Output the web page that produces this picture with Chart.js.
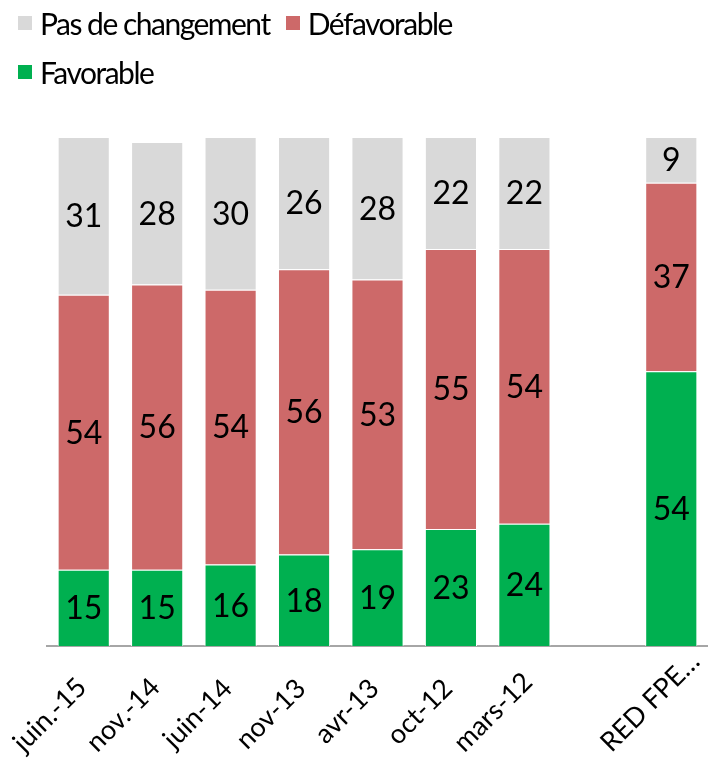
<!DOCTYPE html>
<html>
<head>
<meta charset="utf-8">
<script src="https://cdn.jsdelivr.net/npm/chart.js@4"></script>
<style>
    body { margin: 0; background: #fff; }
    #wrap { position: relative; width: 708px; height: 762px; }
    #legend { position: absolute; left: 18px; top: 0; width: 560px; display: flex; flex-wrap: wrap; font-family: Lato, sans-serif; font-size: 30px; letter-spacing: -1.5px; color: #000; }
    .item { display: flex; align-items: center; height: 53px; margin-right: 16px; margin-top: -4px; }
    .box { width: 14px; height: 14px; margin-right: 8px; }
    canvas { position: absolute; left: 0; top: 0; }
</style>
</head>
<body>
<div id="wrap">
    <canvas id="chart" width="708" height="762"></canvas>
    <div id="legend"></div>
</div>
<script>
// chart data
const categories = ['juin.-15', 'nov.-14', 'juin-14', 'nov-13', 'avr-13', 'oct-12', 'mars-12', '', 'RED FPE…'];
const favorable = [15, 15, 16, 18, 19, 23, 24, null, 54];
const defavorable = [54, 56, 54, 56, 53, 55, 54, null, 37];
const pasDeChangement = [31, 28, 30, 26, 28, 22, 22, null, 9];

const seriesLabels = ['Favorable', 'Défavorable', 'Pas de changement'];
const seriesColors = ['#00B050', '#CD6969', '#D9D9D9'];

// legend (order as in the picture: top series first)
const legendEl = document.getElementById('legend');
[2, 1, 0].forEach((i) => {
    const item = document.createElement('div');
    item.className = 'item';
    item.innerHTML = `<span class="box" style="background:${seriesColors[i]}"></span><span>${seriesLabels[i]}</span>`;
    legendEl.appendChild(item);
});

// draws the value in the middle of each segment
const segmentLabels = {
    id: 'segmentLabels',
    afterDatasetsDraw(chart) {
        const ctx = chart.ctx;
        ctx.save();
        ctx.font = '32px Lato, sans-serif';
        ctx.fillStyle = '#000';
        ctx.textAlign = 'center';
        ctx.textBaseline = 'middle';
        chart.data.datasets.forEach((ds, di) => {
            chart.getDatasetMeta(di).data.forEach((bar, i) => {
                const v = ds.data[i];
                if (v === null) return;
                const mid = (bar.y + bar.base) / 2;
                ctx.fillText(String(v), bar.x, mid + 1);
            });
        });
        ctx.restore();
    }
};

// rotated category labels, end of text at the tick, kept inside the canvas
const rotatedTicks = {
    id: 'rotatedTicks',
    afterDraw(chart) {
        const ctx = chart.ctx;
        const xScale = chart.scales.x;
        ctx.save();
        ctx.font = '27px Lato, sans-serif';
        ctx.fillStyle = '#000';
        ctx.textAlign = 'right';
        ctx.textBaseline = 'middle';
        chart.data.labels.forEach((label, i) => {
            if (!label) return;
            const len = ctx.measureText(label).width * Math.SQRT1_2;
            let ay = xScale.top + 38;
            const maxY = chart.height - 8 - len - 7;
            const shift = Math.max(0, ay - maxY);
            ay -= shift;
            const ax = xScale.getPixelForTick(i) - 3 + shift;
            ctx.save();
            ctx.translate(ax, ay);
            ctx.rotate(-Math.PI / 4);
            ctx.fillText(label, 0, 0);
            ctx.restore();
        });
        ctx.restore();
    }
};

const allSeries = [favorable, defavorable, pasDeChangement];

new Chart(document.getElementById('chart').getContext('2d'), {
    type: 'bar',
    data: {
        labels: categories,
        datasets: allSeries.map((data, index) => ({
            label: seriesLabels[index],
            data: data,
            backgroundColor: seriesColors[index],
            borderColor: '#ffffff',
            borderWidth: 1,
            categoryPercentage: 1,
            barPercentage: 0.71
        }))
    },
    options: {
        responsive: false,
        animation: false,
        events: [],
        layout: {
            padding: { top: 137, left: 47, right: 0, bottom: 0 }
        },
        plugins: {
            legend: { display: false },
            tooltip: { enabled: false }
        },
        scales: {
            x: {
                stacked: true,
                grid: { display: false, drawTicks: false },
                border: { display: true, color: '#A6A6A6', width: 2 },
                ticks: { display: false },
                afterFit: (scale) => {
                    scale.height = 116;
                    scale.paddingLeft = 0;
                    scale.paddingRight = 0;
                }
            },
            y: {
                stacked: true,
                display: false,
                min: 0,
                max: 100
            }
        }
    },
    plugins: [segmentLabels, rotatedTicks]
});
</script>
</body>
</html>
